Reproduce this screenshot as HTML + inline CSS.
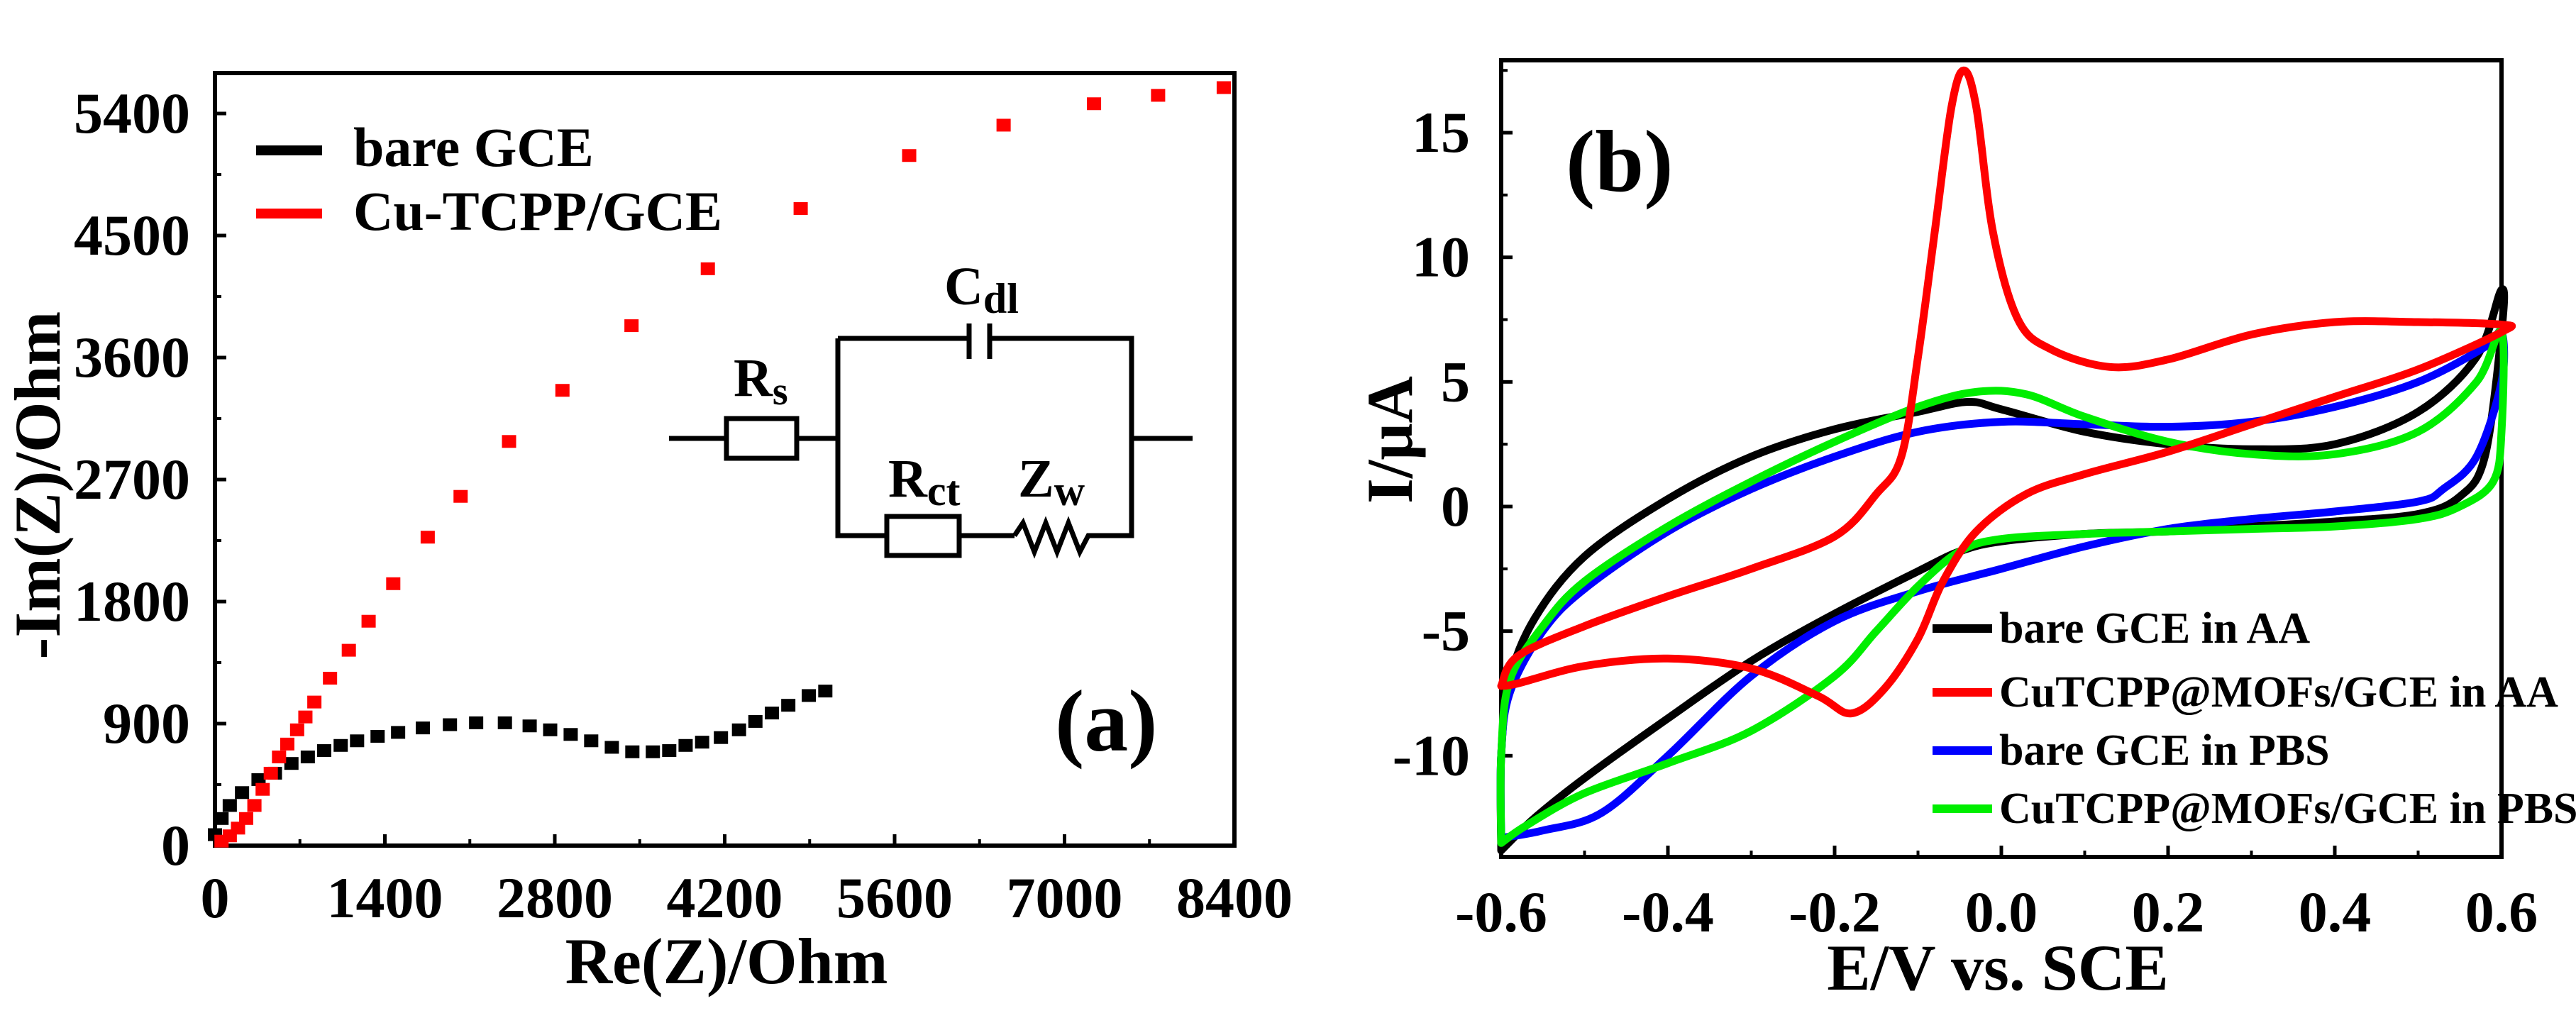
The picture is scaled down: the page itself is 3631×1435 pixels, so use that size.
<!DOCTYPE html>
<html><head><meta charset="utf-8"><style>
html,body{margin:0;padding:0;background:#fff;}
svg, svg text{font-family:"Liberation Serif","DejaVu Serif","Times New Roman",serif;font-weight:bold;}
</style></head><body>
<svg id="fig" width="3631" height="1430" viewBox="0 0 3631 1430" xmlns="http://www.w3.org/2000/svg" font-family="Liberation Serif, DejaVu Serif, serif" font-weight="bold">
<g id="pa"></g>
<g id="pb"></g>
</svg>
<script>
// ---------- Panel (a) data ----------
const aXTicks = [0,1400,2800,4200,5600,7000,8400];
const aYTicks = [0,900,1800,2700,3600,4500,5400];
const bareX = [0,54,122,223,359,494,630,765,900,1036,1171,1340,1509,1713,1936,2152,2389,2593,2762,2931,3100,3270,3439,3608,3743,3878,4014,4169,4318,4453,4589,4724,4893,5029];
const bareY = [81,200,296,391,487,534,606,654,701,739,773,806,835,868,892,906,906,883,854,820,773,725,692,692,701,739,763,797,854,916,978,1035,1107,1140];
const cuX = [54,122,190,257,325,393,460,528,596,677,745,819,948,1103,1266,1469,1753,2024,2423,2863,3432,4061,4826,5720,6498,7243,7771,8312];
const cuY = [33,72,129,200,296,415,534,654,749,854,949,1059,1235,1441,1655,1932,2275,2576,2981,3358,3835,4255,4699,5090,5314,5472,5534,5591];

// ---------- Panel (b) data ----------
const bXTicks = [-0.6,-0.4,-0.2,0.0,0.2,0.4,0.6];
const bYTicks = [-10,-5,0,5,10,15];
const bLegend = ["bare GCE in AA","CuTCPP@MOFs/GCE in AA","bare GCE in PBS","CuTCPP@MOFs/GCE in PBS"];
const blackE = [-0.6,-0.6,-0.59,-0.56,-0.5,-0.4,-0.3,-0.2,-0.1,-0.04,0.0,0.1,0.2,0.3,0.4,0.5,0.57,0.6,0.6,0.58,0.55,0.5,0.4,0.3,0.2,0.1,0.0,-0.05,-0.1,-0.2,-0.3,-0.4,-0.5,-0.56,-0.6];
const blackI = [-13.8,-10,-7,-4.5,-2,0.3,2,3.1,3.8,4.2,3.9,3,2.5,2.3,2.5,3.8,6,8.7,7,2,0.4,-0.3,-0.6,-0.8,-1,-1.1,-1.4,-1.8,-2.6,-4.3,-6.2,-8.5,-10.9,-12.5,-13.8];
const redE = [-0.6,-0.58,-0.5,-0.4,-0.3,-0.2,-0.15,-0.12,-0.1,-0.08,-0.06,-0.045,-0.03,-0.01,0.02,0.06,0.13,0.2,0.3,0.4,0.5,0.6,0.6,0.5,0.4,0.3,0.2,0.1,0.03,-0.03,-0.07,-0.1,-0.14,-0.18,-0.22,-0.3,-0.4,-0.5,-0.58,-0.6];
const redI = [-7.2,-6,-4.8,-3.6,-2.5,-1.2,0.5,2,6,11,16,17.5,16,11,7.5,6.3,5.6,5.9,6.9,7.4,7.4,7.3,7.0,5.5,4.4,3.3,2.2,1.3,0.5,-1,-3,-5.3,-7.3,-8.3,-7.6,-6.5,-6.1,-6.4,-7.1,-7.2];
const blueE = [-0.6,-0.6,-0.59,-0.55,-0.5,-0.4,-0.3,-0.2,-0.1,0,0.1,0.2,0.3,0.4,0.5,0.58,0.6,0.6,0.57,0.53,0.5,0.4,0.3,0.2,0.1,0.0,-0.1,-0.2,-0.3,-0.4,-0.48,-0.55,-0.6];
const blueI = [-13.3,-10,-7.5,-5,-3.3,-1,0.7,2,3,3.4,3.3,3.2,3.4,4,5,6.4,7,5,2,0.7,0.2,-0.2,-0.5,-0.9,-1.6,-2.5,-3.4,-4.6,-6.8,-10,-12.3,-13,-13.3];
const greenE = [-0.6,-0.6,-0.59,-0.55,-0.5,-0.4,-0.3,-0.2,-0.1,-0.03,0.03,0.1,0.2,0.3,0.4,0.5,0.57,0.6,0.6,0.59,0.55,0.5,0.4,0.3,0.2,0.1,0.0,-0.05,-0.1,-0.15,-0.2,-0.3,-0.4,-0.5,-0.57,-0.6];
const greenI = [-13.5,-10,-7,-4.8,-3,-0.8,1,2.6,4,4.6,4.5,3.6,2.6,2.1,2.1,3,5,7,3,1,0,-0.5,-0.8,-0.9,-1,-1.1,-1.3,-1.8,-3.2,-5,-6.8,-9,-10.3,-11.5,-12.8,-13.5];

const NS="http://www.w3.org/2000/svg";
function mk(parent, tag, attrs, text){
  const e=document.createElementNS(NS,tag);
  for(const k in attrs) e.setAttribute(k,attrs[k]);
  if(text!==undefined) e.textContent=text;
  parent.appendChild(e); return e;
}
function smooth(pts){
  let d="M"+pts[0][0]+","+pts[0][1];
  for(let i=0;i<pts.length-1;i++){
    const p0=pts[Math.max(0,i-1)],p1=pts[i],p2=pts[i+1],p3=pts[Math.min(pts.length-1,i+2)];
    const c1=[p1[0]+(p2[0]-p0[0])/6,p1[1]+(p2[1]-p0[1])/6];
    const c2=[p2[0]-(p3[0]-p1[0])/6,p2[1]-(p3[1]-p1[1])/6];
    d+=" C"+c1[0].toFixed(1)+","+c1[1].toFixed(1)+" "+c2[0].toFixed(1)+","+c2[1].toFixed(1)+" "+p2[0].toFixed(1)+","+p2[1].toFixed(1);
  }
  return d;
}

// ===== Panel A =====
(function(){
  const g=document.getElementById('pa');
  const L=303,R=1740,T=103,B=1192;
  const xs=v=>L+(v/8400)*(R-L);
  const ys=v=>B-(v/5400)*(B-160);
  let e;
  e=mk(g,'rect',{x:L,y:T,width:R-L,height:B-T,fill:'none',stroke:'#000','stroke-width':6});
  
  
  aXTicks.forEach((v,i)=>{
    const x=xs(v);
    mk(g,'line',{x1:x,y1:B,x2:x,y2:B-16,stroke:'#000','stroke-width':5});
    if(i<aXTicks.length-1) mk(g,'line',{x1:xs(v+700),y1:B,x2:xs(v+700),y2:B-9,stroke:'#000','stroke-width':4});
    e=mk(g,'text',{x:x,y:1293,'font-size':82,'text-anchor':'middle'},String(v));
    
    
  });
  aYTicks.forEach((v,i)=>{
    const y=ys(v);
    mk(g,'line',{x1:L,y1:y,x2:L+16,y2:y,stroke:'#000','stroke-width':5});
    if(i<aYTicks.length-1) mk(g,'line',{x1:L,y1:ys(v+450),x2:L+9,y2:ys(v+450),stroke:'#000','stroke-width':4});
    e=mk(g,'text',{x:268,y:y+27,'font-size':82,'text-anchor':'end'},String(v));
    
    
  });
  e=mk(g,'text',{x:1024,y:1386,'font-size':92,'text-anchor':'middle'},'Re(Z)/Ohm');
  
  
  e=mk(g,'text',{x:0,y:0,'font-size':92,'text-anchor':'middle',transform:'translate(84,684) rotate(-90)'},'-Im(Z)/Ohm');
  
  
  bareX.forEach((v,i)=>{
    e=mk(g,'rect',{x:xs(v)-10,y:ys(bareY[i])-9,width:20,height:18,fill:'#000'});
    
    
  });
  cuX.forEach((v,i)=>{
    e=mk(g,'rect',{x:xs(v)-10,y:ys(cuY[i])-9,width:20,height:18,fill:'#ff0000'});
    
    
  });
  e=mk(g,'line',{x1:361,y1:212,x2:454,y2:212,stroke:'#000','stroke-width':14});
  
  
  e=mk(g,'text',{x:498,y:234,'font-size':78},'bare GCE');
  
  
  e=mk(g,'line',{x1:361,y1:301,x2:454,y2:301,stroke:'#ff0000','stroke-width':14});
  
  
  e=mk(g,'text',{x:498,y:324,'font-size':78},'Cu-TCPP/GCE');
  
  
  e=mk(g,'text',{x:1487,y:1058,'font-size':124},'(a)');
  
  
  const c=mk(g,'g',{fill:'none',stroke:'#000','stroke-width':7});
  
  
  mk(c,'path',{d:'M943,618 H1024 M1123,618 H1181 M1181,477 V755 H1250 M1352,755 H1430 M1540,755 H1595 V477 H1395 M1366,477 H1181 M1595,618 H1681'});
  mk(c,'rect',{x:1024,y:590,width:99,height:56});
  mk(c,'rect',{x:1250,y:728,width:102,height:55});
  mk(c,'path',{d:'M1366,456 V506 M1395,456 V506'});
  mk(c,'path',{d:'M1430,755 L1442,737 L1458,778 L1474,737 L1490,778 L1506,737 L1522,778 L1534,755 L1540,755'});
  const ct=mk(g,'g',{'font-size':76});
  e=mk(ct,'text',{x:1034,y:558});
  e.innerHTML='R<tspan font-size="56" dy="12">s</tspan>';
  
  
  e=mk(ct,'text',{x:1331,y:429});
  e.innerHTML='C<tspan font-size="60" dy="12">dl</tspan>';
  
  
  e=mk(ct,'text',{x:1252,y:700});
  e.innerHTML='R<tspan font-size="60" dy="12">ct</tspan>';
  
  
  e=mk(ct,'text',{x:1435,y:700});
  e.innerHTML='Z<tspan font-size="60" dy="12">w</tspan>';
  
  
})();

// ===== Panel B =====
(function(){
  const g=document.getElementById('pb');
  const L=2116,R=3526,T=85,B=1208;
  const xs=v=>L+((v+0.6)/1.2)*(R-L);
  const ys=v=>714-v*35.13;
  let e;
  e=mk(g,'rect',{x:L,y:T,width:R-L,height:B-T,fill:'none',stroke:'#000','stroke-width':6});
  
  
  bXTicks.forEach((v,i)=>{
    const x=xs(v);
    mk(g,'line',{x1:x,y1:B,x2:x,y2:B-16,stroke:'#000','stroke-width':5});
    if(i<bXTicks.length-1) mk(g,'line',{x1:xs(v+0.1),y1:B,x2:xs(v+0.1),y2:B-9,stroke:'#000','stroke-width':4});
    e=mk(g,'text',{x:x,y:1313,'font-size':82,'text-anchor':'middle'},v.toFixed(1));
    
    
  });
  bYTicks.forEach(v=>{
    const y=ys(v);
    mk(g,'line',{x1:L,y1:y,x2:L+16,y2:y,stroke:'#000','stroke-width':5});
    mk(g,'line',{x1:L,y1:ys(v+2.5),x2:L+9,y2:ys(v+2.5),stroke:'#000','stroke-width':4});
    e=mk(g,'text',{x:2072,y:y+27,'font-size':82,'text-anchor':'end'},String(v));
    
    
  });
  e=mk(g,'text',{x:2816,y:1395,'font-size':92,'text-anchor':'middle'},'E/V vs. SCE');
  
  
  e=mk(g,'text',{x:0,y:0,'font-size':92,'text-anchor':'middle',transform:'translate(1990,620) rotate(-90)'},'I/μA');
  
  
  const series=[[blackE,blackI,'#000000','cv-bare-gce-aa'],[blueE,blueI,'#0000ff','cv-bare-gce-pbs'],[greenE,greenI,'#00ee00','cv-cutcpp-pbs'],[redE,redI,'#ff0000','cv-cutcpp-aa']];
  series.forEach(s=>{
    const pts=s[0].map((v,i)=>[xs(v),ys(s[1][i])]);
    e=mk(g,'path',{d:smooth(pts),fill:'none',stroke:s[2],'stroke-width':11,'stroke-linejoin':'round','stroke-linecap':'round'});
    
    
  });
  const lc=['#000000','#ff0000','#0000ff','#00ee00'];
  const ly=[886,976,1058,1140];
  bLegend.forEach((t,i)=>{
    e=mk(g,'line',{x1:2724,y1:ly[i],x2:2808,y2:ly[i],stroke:lc[i],'stroke-width':12});
    
    
    e=mk(g,'text',{x:2818,y:ly[i]+20,'font-size':62},t);
    
    
  });
  e=mk(g,'text',{x:2207,y:269,'font-size':124},'(b)');
  
  
})();
</script>
</body></html>
